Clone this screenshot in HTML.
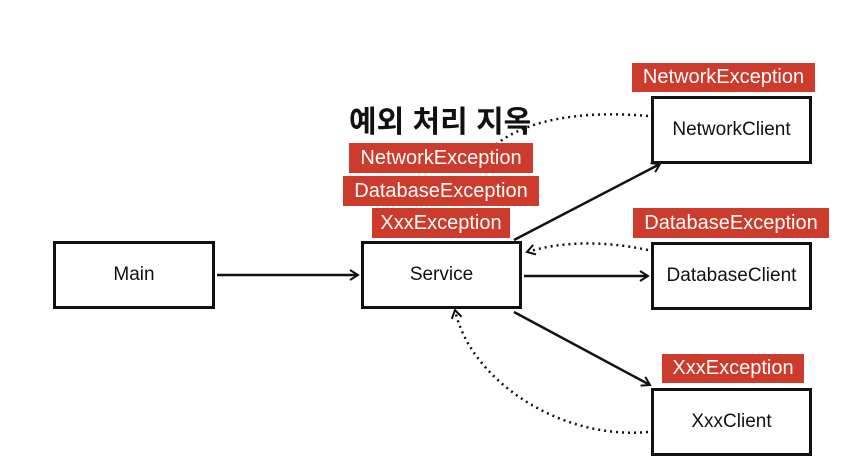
<!DOCTYPE html>
<html><head><meta charset="utf-8"><style>
body{margin:0;width:866px;height:460px;background:#fff;position:relative;overflow:hidden;font-family:"Liberation Sans","Noto Sans CJK KR",sans-serif}
.b{position:absolute;border:3px solid #111;box-sizing:border-box;display:flex;align-items:center;justify-content:center;font-size:19px;color:#111;background:#fff}
.r{position:absolute;background:#cc3b2b;color:#fff;font-size:20px;display:flex;align-items:center;justify-content:center;box-sizing:border-box}
.t{position:absolute;font-size:30px;font-weight:bold;color:#111}
</style></head><body>
<svg width="866" height="460" style="position:absolute;left:0;top:0">
<defs><marker id="a" markerWidth="12" markerHeight="12" refX="9" refY="6" orient="auto" markerUnits="userSpaceOnUse"><path d="M1,1 L9,6 L1,11" fill="none" stroke="#111" stroke-width="2"/></marker></defs>
<g stroke="#111" stroke-width="2.5" fill="none">
<line x1="217" y1="275" x2="358" y2="275" marker-end="url(#a)"/>
<line x1="514" y1="240" x2="660" y2="164" marker-end="url(#a)"/>
<line x1="524" y1="276" x2="648" y2="276" marker-end="url(#a)"/>
<line x1="514" y1="312" x2="650" y2="385" marker-end="url(#a)"/>
</g>
<g stroke="#111" stroke-width="2.5" fill="none" stroke-dasharray="2,4">
<path d="M648,116 C580,110 520,120 490,150"/>
<path d="M648,250 C600,240 560,242 527,252" marker-end="url(#a)"/>
<path d="M648,432 C560,440 470,380 455,310" marker-end="url(#a)"/>
</g>
</svg>
<div class="b" style="left:53px;top:241px;width:162px;height:68px">Main</div>
<div class="b" style="left:361px;top:241px;width:161px;height:68px">Service</div>
<div class="b" style="left:651px;top:96px;width:161px;height:68px">NetworkClient</div>
<div class="b" style="left:651px;top:242px;width:161px;height:68px">DatabaseClient</div>
<div class="b" style="left:651px;top:388px;width:161px;height:68px">XxxClient</div>
<div class="t" style="left:349px;top:97px">예외 처리 지옥</div>
<div class="r" style="left:632px;top:63px;width:183px;height:29px">NetworkException</div>
<div class="r" style="left:349px;top:143px;width:184px;height:30px">NetworkException</div>
<div class="r" style="left:343px;top:176px;width:196px;height:30px">DatabaseException</div>
<div class="r" style="left:372px;top:208px;width:138px;height:30px">XxxException</div>
<div class="r" style="left:633px;top:208px;width:196px;height:30px">DatabaseException</div>
<div class="r" style="left:662px;top:354px;width:142px;height:29px">XxxException</div>
</body></html>
